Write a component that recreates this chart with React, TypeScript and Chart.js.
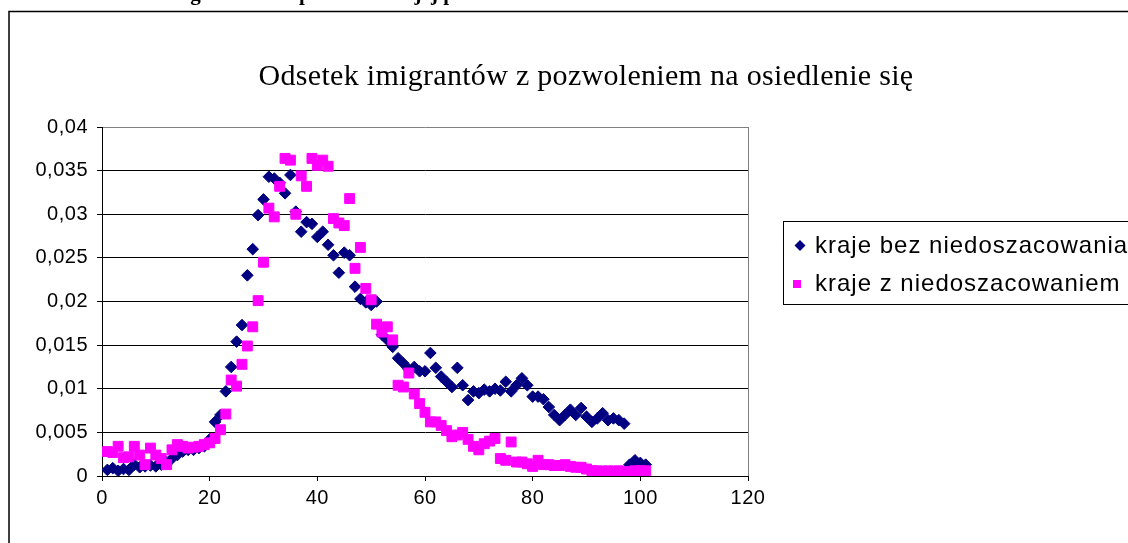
import React, { useEffect, useRef } from 'react';
import { Chart, registerables } from 'chart.js';

Chart.register(...registerables);

// Category positions (x) shared by both series
const xCategories = [
  1, 2, 3, 4, 5, 6, 7, 8, 9, 10,
  11, 12, 13, 14, 15, 16, 17, 18, 19, 20,
  21, 22, 23, 24, 25, 26, 27, 28, 29, 30,
  31, 32, 33, 34, 35, 36, 37, 38, 39, 40,
  41, 42, 43, 44, 45, 46, 47, 48, 49, 50,
  51, 52, 53, 54, 55, 56, 57, 58, 59, 60,
  61, 62, 63, 64, 65, 66, 67, 68, 69, 70,
  71, 72, 73, 74, 75, 76, 77, 78, 79, 80,
  81, 82, 83, 84, 85, 86, 87, 88, 89, 90,
  91, 92, 93, 94, 95, 96, 97, 98, 99, 100, 101,
];

// "kraje bez niedoszacowania"
const krajeBez = [
  0.0007, 0.0009, 0.0006, 0.0008, 0.0007, 0.0013, 0.0010, 0.0011, 0.0012, 0.0011,
  0.0013, 0.0016, 0.0020, 0.0024, 0.0028, 0.0030, 0.0030, 0.0032, 0.0034, 0.0042,
  0.0062, 0.0070, 0.0097, 0.0125, 0.0154, 0.0173, 0.0230, 0.0260, 0.0299, 0.0317,
  0.0343, 0.0341, 0.0336, 0.0324, 0.0345, 0.0303, 0.0280, 0.0291, 0.0289, 0.0274,
  0.0280, 0.0265, 0.0253, 0.0233, 0.0256, 0.0253, 0.0217, 0.0203, 0.0199, 0.0196,
  0.0200, 0.0162, 0.0156, 0.0148, 0.0135, 0.0129, 0.0122, 0.0125, 0.0120, 0.0120,
  0.0141, 0.0124, 0.0114, 0.0108, 0.0102, 0.0124, 0.0104, 0.0087, 0.0097, 0.0095,
  0.0099, 0.0097, 0.0100, 0.0098, 0.0108, 0.0097, 0.0104, 0.0112, 0.0104, 0.0091,
  0.0091, 0.0088, 0.0079, 0.0070, 0.0064, 0.0070, 0.0076, 0.0070, 0.0078, 0.0068,
  0.0062, 0.0066, 0.0072, 0.0064, 0.0066, 0.0064, 0.0060, 0.0013, 0.0018, 0.0015, 0.0013,
];

// "kraje z niedoszacowaniem"
const krajeZ = [
  0.0028, 0.0027, 0.0034, 0.0021, 0.0022, 0.0034, 0.0024, 0.0013, 0.0032, 0.0024,
  0.0020, 0.0013, 0.0030, 0.0036, 0.0034, 0.0032, 0.0033, 0.0034, 0.0036, 0.0038,
  0.0043, 0.0053, 0.0071, 0.0110, 0.0103, 0.0128, 0.0149, 0.0171, 0.0201, 0.0245,
  0.0307, 0.0297, 0.0332, 0.0364, 0.0362, 0.0300, 0.0344, 0.0332, 0.0364, 0.0356,
  0.0362, 0.0355, 0.0295, 0.0290, 0.0287, 0.0318, 0.0238, 0.0262, 0.0215, 0.0202,
  0.0174, 0.0165, 0.0171, 0.0156, 0.0104, 0.0102, 0.0118, 0.0094, 0.0083, 0.0073,
  0.0062, 0.0062, 0.0058, 0.0052, 0.0045, 0.0047, 0.0050, 0.0042, 0.0034, 0.0030,
  0.0037, 0.0040, 0.0043, 0.0020, 0.0018, 0.0039, 0.0016, 0.0016, 0.0014, 0.0011,
  0.0018, 0.0013, 0.0013, 0.0012, 0.0012, 0.0013, 0.0011, 0.0010, 0.0010, 0.0008,
  0.0006, 0.0006, 0.0005, 0.0006, 0.0005, 0.0006, 0.0005, 0.0005, 0.0006, 0.0006, 0.0006,
];

const xTickValues = [0, 20, 40, 60, 80, 100, 120];
const yTickValues = [0, 0.005, 0.01, 0.015, 0.02, 0.025, 0.03, 0.035, 0.04];

const seriesNames = ['kraje bez niedoszacowania', 'kraje z niedoszacowaniem'];
const seriesColors = ['#000080', '#FF00FF'];
const chartTitle = 'Odsetek imigrantów z pozwoleniem na osiedlenie się';
const headerText = 'Struktura osób wg okresu na pozwolenie i jej przedłużenie';

const fmt = (v: number) => String(Number(v.toFixed(4))).replace('.', ',');

export default function App() {
  const ref = useRef<HTMLCanvasElement | null>(null);

  useEffect(() => {
    const canvas = ref.current;
    if (!canvas) return;

    const decor = {
      id: 'decor',
      beforeDraw(chart: any) {
        (chart.ctx as any).letterSpacing = '0.5px';
      },
      afterDraw(chart: any) {
        const ctx = chart.ctx as any;
        const area = chart.chartArea;
        ctx.save();

        // plot area right border (grey)
        ctx.strokeStyle = '#808080';
        ctx.lineWidth = 1;
        ctx.beginPath();
        ctx.moveTo(Math.round(area.right) + 0.5, Math.round(area.top));
        ctx.lineTo(Math.round(area.right) + 0.5, Math.round(area.bottom));
        ctx.stroke();

        // outer chart frame
        ctx.strokeStyle = '#000';
        ctx.lineWidth = 1.5;
        ctx.strokeRect(9, 11.5, 1300, 700);

        // header text from the page (cut off at top, only descenders visible)
        ctx.letterSpacing = '0px';
        ctx.fillStyle = '#000';
        ctx.font = 'bold 21px "Liberation Serif", "Times New Roman", serif';
        ctx.textAlign = 'left';
        ctx.textBaseline = 'alphabetic';
        ctx.fillText(headerText, 34, 0);

        // title
        ctx.letterSpacing = '0.3px';
        ctx.font = '30px "Liberation Serif", "Times New Roman", serif';
        ctx.textAlign = 'center';
        ctx.fillText(chartTitle, 586, 85);

        // legend
        ctx.letterSpacing = '0px';
        ctx.fillStyle = '#fff';
        ctx.fillRect(783.5, 221.5, 400, 83);
        ctx.strokeStyle = '#000';
        ctx.lineWidth = 1;
        ctx.strokeRect(783.5, 221.5, 400, 83);

        // diamond marker
        ctx.fillStyle = seriesColors[0];
        ctx.beginPath();
        ctx.moveTo(800, 240);
        ctx.lineTo(805.5, 245.5);
        ctx.lineTo(800, 251);
        ctx.lineTo(794.5, 245.5);
        ctx.closePath();
        ctx.fill();
        // square marker
        ctx.fillStyle = seriesColors[1];
        ctx.fillRect(793, 280, 8, 8);

        ctx.fillStyle = '#000';
        ctx.letterSpacing = '1px';
        ctx.font = '24px "Liberation Sans", Arial, sans-serif';
        ctx.textAlign = 'left';
        ctx.textBaseline = 'middle';
        ctx.fillText(seriesNames[0], 815, 246);
        ctx.fillText(seriesNames[1], 815, 284);

        ctx.restore();
      },
    };

    const tickFont = { family: '"Liberation Sans", Arial, sans-serif', size: 20 };

    const chart = new Chart(canvas, {
      type: 'scatter',
      data: {
        datasets: [
          {
            label: seriesNames[0],
            data: xCategories.map((x, i) => ({ x, y: krajeBez[i] })),
            pointStyle: 'rectRot',
            pointRadius: 5.8,
            pointHoverRadius: 5.8,
            backgroundColor: seriesColors[0],
            borderColor: seriesColors[0],
            borderWidth: 1,
            order: 1,
          },
          {
            label: seriesNames[1],
            data: xCategories.map((x, i) => ({ x, y: krajeZ[i] })),
            pointStyle: 'rect',
            pointRadius: 7,
            pointHoverRadius: 7,
            backgroundColor: seriesColors[1],
            borderColor: seriesColors[1],
            borderWidth: 1,
            order: 0,
          },
        ],
      },
      options: {
        animation: false,
        responsive: true,
        maintainAspectRatio: false,
        events: [],
        layout: { padding: { left: 0, top: 127, right: 380, bottom: 0 } },
        plugins: {
          legend: { display: false },
          title: { display: false },
          tooltip: { enabled: false },
        },
        scales: {
          x: {
            type: 'linear',
            min: 0,
            max: 120,
            afterBuildTicks: (scale: any) => {
              scale.ticks = xTickValues.map((v) => ({ value: v }));
            },
            afterFit: (scale: any) => {
              scale.height = 67;
            },
            grid: {
              drawOnChartArea: false,
              drawTicks: true,
              tickLength: 5,
              tickColor: '#000',
              color: '#000',
            },
            border: { color: '#000', width: 1 },
            ticks: {
              color: '#000',
              font: tickFont,
              padding: 5,
              maxRotation: 0,
              autoSkip: false,
              callback: (v: any) => fmt(Number(v)),
            },
          },
          y: {
            type: 'linear',
            min: 0,
            max: 0.04,
            afterBuildTicks: (scale: any) => {
              scale.ticks = yTickValues.map((v) => ({ value: v }));
            },
            afterFit: (scale: any) => {
              scale.width = 102;
            },
            grid: {
              color: (c: any) => (c.tick && c.tick.value >= 0.0399 ? '#808080' : '#000'),
              tickColor: '#000',
              tickLength: 5,
              lineWidth: 1,
            },
            border: { color: '#000', width: 1 },
            ticks: {
              color: '#000',
              font: tickFont,
              padding: 9,
              autoSkip: false,
              callback: (v: any) => fmt(Number(v)),
            },
          },
        },
      },
      plugins: [decor],
    } as any);

    return () => chart.destroy();
  }, []);

  return (
    <div style={{ position: 'absolute', left: 0, top: 0, width: 1128, height: 543 }}>
      <canvas ref={ref} />
    </div>
  );
}
